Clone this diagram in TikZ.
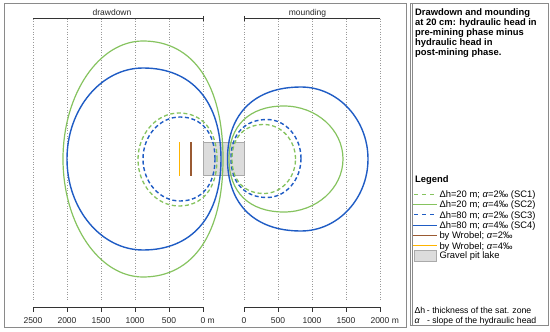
\documentclass[tikz,border=0pt]{standalone}
\usepackage{fontspec}
\setmainfont{Liberation Sans}
\definecolor{cgreen}{HTML}{86C35F}
\definecolor{cblue}{HTML}{1F5CC4}
\definecolor{wrobbrown}{HTML}{9A5A32}
\definecolor{wrobyellow}{HTML}{FFB400}
\definecolor{cpit}{HTML}{DCDCDC}
\definecolor{cpitb}{HTML}{AAAAAA}
\definecolor{cframe}{HTML}{8A8A8A}
\definecolor{caxis}{HTML}{333333}
\definecolor{cgrid}{HTML}{9A9A9A}
% style, cx, cy, al, ar, b, kl, kr
\newcommand{\eggshape}[8]{%
\draw[#1] ({#2+#5},{#3}) .. controls ({#2+#5},{#3-#8*#6}) and ({#2+#8*#5},{#3-#6}) .. ({#2},{#3-#6})
 .. controls ({#2-#7*#4},{#3-#6}) and ({#2-#4},{#3-#7*#6}) .. ({#2-#4},{#3})
 .. controls ({#2-#4},{#3+#7*#6}) and ({#2-#7*#4},{#3+#6}) .. ({#2},{#3+#6})
 .. controls ({#2+#8*#5},{#3+#6}) and ({#2+#5},{#3+#8*#6}) .. cycle;}
\tikzset{
  sca/.style={cgreen, line width=1.3pt, dash pattern=on 4pt off 2.6pt},
  scb/.style={cgreen, line width=1.2pt},
  scc/.style={cblue, line width=1.4pt, dash pattern=on 4pt off 2.6pt},
  scd/.style={cblue, line width=1.4pt},
  wrobtwo/.style={fill=wrobbrown, draw=none},
  wrobfour/.style={fill=wrobyellow, draw=none},
  gridline/.style={cgrid, line width=0.6pt, dash pattern=on 1pt off 1.6pt},
  axisline/.style={caxis, line width=0.8pt},
  axlabel/.style={inner sep=0pt, font=\fontsize{8.5}{10}\selectfont, text=black!85},
  ttl/.style={inner sep=0pt, anchor=base west, font=\fontsize{9.4}{10}\selectfont\bfseries},
  leg/.style={inner sep=0pt, anchor=base west, font=\fontsize{9.4}{10}\selectfont},
  note/.style={inner sep=0pt, anchor=base west, font=\fontsize{8.7}{10}\selectfont},
  pit/.style={fill=cpit, draw=cpitb, line width=0.5pt},
}
\begin{document}
\begin{tikzpicture}[x=1pt,y=-1pt]
\useasboundingbox (0,0) rectangle (550,332);
% frames
\draw[cframe, line width=0.9pt] (4,3) rectangle (406.5,327.5);
\draw[cframe, line width=0.9pt] (410,3) rectangle (548,325.5);
\draw[cframe, line width=0.7pt] (411.9,3) -- (411.9,325.5);
% grid
\foreach \gx in {33,67,101,135,169,203,244,278,312,346,380}
  \draw[gridline] (\gx,18.5) -- (\gx,300);
% pit
\draw[pit] (203,142.5) rectangle (244.5,175.5);
% left lobes (drawdown)
\eggshape{scb}{143}{159}{80}{80}{118}{0.55}{0.63}
\eggshape{scd}{143}{159}{76}{78}{91}{0.55}{0.63}
\eggshape{sca}{179}{159.5}{41}{38}{46.5}{0.55}{0.62}
\eggshape{scc}{180}{159}{37}{35}{42}{0.55}{0.62}
% right lobes (mounding)
\eggshape{scd}{301}{159}{73.5}{67}{72}{0.63}{0.55}
\eggshape{scb}{284}{159}{55}{59}{53}{0.63}{0.55}
\eggshape{scc}{267}{158.5}{36}{34}{39}{0.62}{0.55}
\eggshape{sca}{264}{159}{32}{31.5}{34.5}{0.62}{0.55}
% Wrobel
\fill[wrobfour] (178.6,142) rectangle (180.4,176);
\fill[wrobtwo] (190.3,142) rectangle (192.1,176);
% top axes
\coordinate (tl0) at (33,18.3);
\coordinate (tl1) at (203,18.3);
\coordinate (tr0) at (244,18.3);
\coordinate (tr1) at (380,18.3);
\draw[axisline] (tl0) -- (tl1) ++(0,-2.5) -- ++(0,5);
\draw[axisline] (tr1) -- (tr0) ++(0,-2.5) -- ++(0,5);
\node[axlabel, anchor=base] (dd) at (112,15.3) {drawdown};
\node[axlabel, anchor=base] (mo) at (307.5,15.3) {mounding};
% bottom axes
\coordinate (bl0) at (33,307.3);
\coordinate (bl1) at (203,307.3);
\coordinate (br0) at (244,307.3);
\coordinate (br1) at (380,307.3);
\draw[axisline] (bl0) -- (bl1);
\draw[axisline] (br0) -- (br1);
\foreach \gx/\lab in {33/2500,67/2000,101/1500,135/1000,169/500}{
  \draw[axisline] (\gx,307.3) -- (\gx,312);
  \node[axlabel, anchor=base] (lb\gx) at (\gx,323.8) {\lab};
}
\draw[axisline] (203,307.3) -- (203,312);
\node[axlabel, anchor=base] (lb203) at (203,323.8) {0\rlap{ m}};
\foreach \gx/\lab in {244/0,278/500,312/1000,346/1500}{
  \draw[axisline] (\gx,307.3) -- (\gx,312);
  \node[axlabel, anchor=base] (rb\gx) at (\gx,323.8) {\lab};
}
\draw[axisline] (380,307.3) -- (380,312);
\node[axlabel, anchor=base] (rb380) at (380,323.8) {2000\rlap{ m}};
% legend title
\node[ttl] (t1) at (415,15.5) {Drawdown and mounding};
\node[ttl] (t2) at (415,25.6) {at 20 cm: hydraulic head in};
\node[ttl] (t3) at (415,35.7) {pre-mining phase minus};
\node[ttl] (t4) at (415,45.8) {hydraulic head in};
\node[ttl] (t5) at (415,55.9) {post-mining phase.};
\node[ttl] (lg) at (415,182) {Legend};
% legend entries
\coordinate (s1a) at (414,194.5); \coordinate (s1b) at (437,194.5);
\coordinate (s2a) at (413,204.5); \coordinate (s2b) at (437,204.5);
\coordinate (s3a) at (414,214.5); \coordinate (s3b) at (437,214.5);
\coordinate (s4a) at (413,225.5); \coordinate (s4b) at (437,225.5);
\draw[sca, dash pattern=on 4pt off 4pt] (s1a) -- (s1b);
\draw[scb] (s2a) -- (s2b);
\draw[scc, dash pattern=on 4pt off 4pt] (s3a) -- (s3b);
\draw[scd] (s4a) -- (s4b);
\fill[wrobtwo] (413,234.9) rectangle (437,236.2);
\fill[wrobfour] (413,244.9) rectangle (437,246.2);
\draw[pit] (414,250) rectangle (436,261);
\node[leg] (e1) at (439.3,197.6) {Δh=20 m; \textit{α}=2‰ (SC1)};
\node[leg] (e2) at (439.3,207.9) {Δh=20 m; \textit{α}=4‰ (SC2)};
\node[leg] (e3) at (439.3,218.2) {Δh=80 m; \textit{α}=2‰ (SC3)};
\node[leg] (e4) at (439.3,228.5) {Δh=80 m; \textit{α}=4‰ (SC4)};
\node[leg] (e5) at (439.3,238.8) {by Wrobel; \textit{α}=2‰};
\node[leg] (e6) at (439.3,249.1) {by Wrobel; \textit{α}=4‰};
\node[leg] (e7) at (439.3,258.9) {Gravel pit lake};
\node[note] (n1) at (414.3,313.6) {\makebox[12.5pt][l]{Δh}- thickness of the sat. zone};
\node[note] (n2) at (414.3,323.6) {\makebox[12.5pt][l]{\textit{α}}- slope of the hydraulic head};
\end{tikzpicture}
\end{document}
